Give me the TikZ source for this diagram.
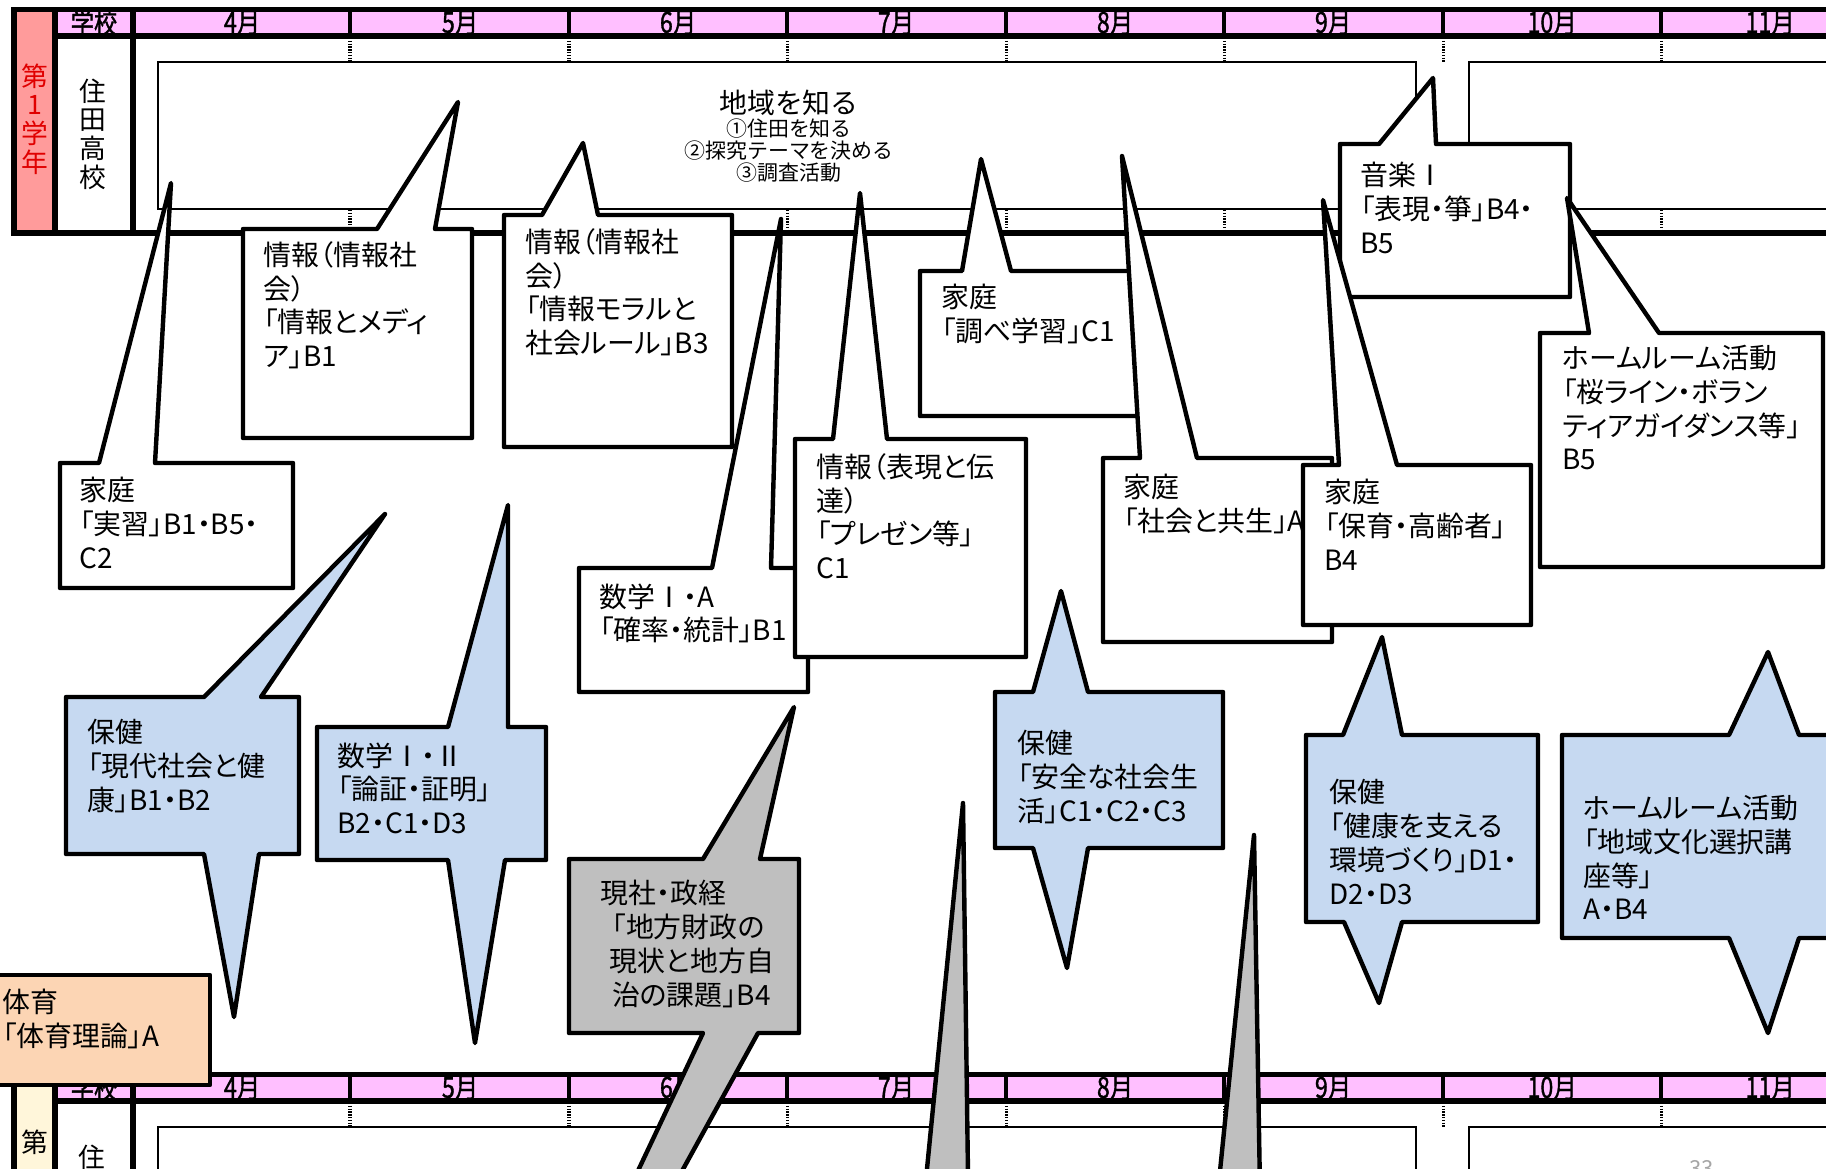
\documentclass[tikz,border=0pt]{standalone}
\usepackage{fontspec}
\setmainfont{Noto Sans CJK JP}[RawFeature={+palt}]
\newfontfamily\plainjp{Noto Sans CJK JP}
\newfontfamily\narrowjp{Noto Sans CJK JP}[FakeStretch=0.8, FakeBold=1.2]
\definecolor{hdrpink}{HTML}{FFBFFF}
\definecolor{colred}{HTML}{FF9B9B}
\definecolor{colcream}{HTML}{FFF6DA}
\definecolor{cblue}{HTML}{C6D9F1}
\definecolor{cgrey}{HTML}{BFBFBF}
\definecolor{cpeach}{HTML}{FCD5B4}
\definecolor{redtxt}{HTML}{E00000}
\tikzset{
  tthick/.style={line width=2.4pt, line cap=rect},
  ttop/.style={line width=1.9pt, line cap=rect},
  msep/.style={line width=1.6pt},
  dotl/.style={line width=1.3pt, dash pattern=on 0.6pt off 0.6pt},
  innerbox/.style={line width=1.2pt},
  cbox/.style={draw=black, line width=1.9pt, line join=round},
  ctext/.style={anchor=north west, inner sep=0pt, align=left, font=\fontsize{12}{14.5}\selectfont},
  htext/.style={inner sep=0pt, font=\narrowjp\fontsize{12.5}{12.5}\selectfont},
  vtext/.style={inner sep=0pt, align=center, font=\plainjp\fontsize{11.5}{12.3}\selectfont},
}
\newcommand\schooltab[3]{%
\begin{scope}[shift={(0,#2)}]
 \fill[#3] (14,9.5) rectangle (55,233);
 \fill[hdrpink] (55,9.5) rectangle (1840,36);
 \foreach \mx in {350,569,787,1006,1224,1443,1661}{
   \draw[msep] (\mx,9.5) -- (\mx,36);
   \draw[dotl] (\mx,38) -- (\mx,62);
   \draw[dotl] (\mx,210) -- (\mx,231);
 }
 \draw[innerbox] (158,62) rectangle (1416,209);
 \draw[innerbox] (1469,62) rectangle (1850,209);
 \draw[ttop] (14,9.5) -- (1840,9.5);
 \draw[tthick] (55,36) -- (1840,36);
 \draw[tthick] (14,233) -- (1840,233);
 \draw[tthick] (14,9.5) -- (14,233);
 \draw[tthick] (55,9.5) -- (55,233);
 \draw[tthick] (133,9.5) -- (133,233);
 \node[htext] (#1school) at (94,22.5) {学校};
 \node[htext] (#1ma) at (242,22.5) {4月};
 \node[htext] (#1mb) at (460,22.5) {5月};
 \node[htext] (#1mc) at (678,22.5) {6月};
 \node[htext] (#1md) at (896,22.5) {7月};
 \node[htext] (#1me) at (1115,22.5) {8月};
 \node[htext] (#1mf) at (1333,22.5) {9月};
 \node[htext] (#1mg) at (1552,22.5) {10月};
 \node[htext] (#1mh) at (1770,22.5) {11月};
\end{scope}}
\begin{document}
\begin{tikzpicture}[x=0.43pt, y=-0.43pt]
\useasboundingbox (0,0) rectangle (1826,1168);
\clip (0,0) rectangle (1826,1168);
\fill[white] (0,0) rectangle (1826,1168);

\schooltab{top}{0}{colred}
\node[vtext, text=redtxt] (topgrade) at (35,119) {第\\1\\学\\年};
\node[vtext] (topname) at (93,134) {住\\田\\高\\校};
\schooltab{bot}{1065}{colcream}
\node[vtext] (botgrade) at (35,1142) {第};
\node[vtext] (botname) at (92,1157) {住};

\node[inner sep=0pt, font=\plainjp\fontsize{12}{13}\selectfont] (theme) at (789,103) {地域を知る};
\node[inner sep=0pt, align=center, anchor=north, font=\plainjp\fontsize{9}{9.5}\selectfont] (themesub) at (789,118) {①住田を知る\\②探究テーマを決める\\③調査活動};

% 1
\draw[cbox, fill=white] (60,463) -- (99,463) -- (171,183) -- (155,463) -- (293,463) -- (293,588) -- (60,588) -- cycle;
\node[ctext] (t1) at (79,477) {家庭\\「実習」B1・B5・\\C2};
% 2
\draw[cbox, fill=white] (243,229) -- (377,229) -- (458,102) -- (435,229) -- (472,229) -- (472,438) -- (243,438) -- cycle;
\node[ctext] (t2) at (263,241) {情報（情報社\\会）\\「情報とメディ\\ア」B1};
% 3
\draw[cbox, fill=white] (504,215) -- (542,215) -- (583,143) -- (598,215) -- (732,215) -- (732,447) -- (504,447) -- cycle;
\node[ctext] (t3) at (525,228) {情報（情報社\\会）\\「情報モラルと\\社会ルール」B3};
% 4
\draw[cbox, fill=white] (579,568) -- (712,568) -- (781,219) -- (771,568) -- (808,568) -- (808,692) -- (579,692) -- cycle;
\node[ctext] (t4) at (599,583) {数学{\plainjp Ⅰ}・A\\「確率・統計」B1};
% 5
\draw[cbox, fill=white] (795,439) -- (833,439) -- (860,193) -- (887,439) -- (1026,439) -- (1026,657) -- (795,657) -- cycle;
\node[ctext] (t5) at (816,453) {情報（表現と伝\\達）\\「プレゼン等」\\C1};
% 6
\draw[cbox, fill=white] (920,271) -- (962,271) -- (981,159) -- (1011,271) -- (1148,271) -- (1148,416) -- (920,416) -- cycle;
\node[ctext] (t6) at (941,284) {家庭\\「調べ学習」C1};
% 7
\draw[cbox, fill=white] (1103,458) -- (1140,458) -- (1122,156) -- (1197,458) -- (1332,458) -- (1332,642) -- (1103,642) -- cycle;
\node[ctext] (t7) at (1123,474) {家庭\\「社会と共生」A};
% 9
\draw[cbox, fill=white] (1340,144) -- (1379,144) -- (1433,78) -- (1436,144) -- (1570,144) -- (1570,297) -- (1340,297) -- cycle;
\node[ctext] (t9) at (1360,162) {音楽{\plainjp Ⅰ}\\「表現・箏」B4・\\B5};
% 8
\draw[cbox, fill=white] (1303,465) -- (1339,465) -- (1323,200) -- (1397,465) -- (1531,465) -- (1531,625) -- (1303,625) -- cycle;
\node[ctext] (t8) at (1324,479) {家庭\\「保育・高齢者」\\B4};
% 10
\draw[cbox, fill=white] (1540,333) -- (1589,333) -- (1567,198) -- (1659,333) -- (1823,333) -- (1823,567) -- (1540,567) -- cycle;
\node[ctext] (t10) at (1562,345) {ホームルーム活動\\「桜ライン・ボラン\\ティアガイダンス等」\\B5};
% 11
\draw[cbox, fill=cblue] (66,697) -- (204,697) -- (385,514) -- (261,697) -- (299,697) -- (299,854) -- (259,854) -- (234,1017) -- (204,854) -- (66,854) -- cycle;
\node[ctext] (t11) at (87,719) {保健\\「現代社会と健\\康」B1・B2};
% 12
\draw[cbox, fill=cblue] (317,727) -- (448,727) -- (508,505) -- (508,727) -- (546,727) -- (546,860) -- (505,860) -- (475,1043) -- (448,860) -- (317,860) -- cycle;
\node[ctext] (t12) at (337,742) {数学{\plainjp Ⅰ}・{\plainjp Ⅱ}\\「論証・証明」\\B2・C1・D3};
% 13
\draw[cbox, fill=cgrey] (569,859) -- (703,859) -- (794,707) -- (760,859) -- (799,859) -- (799,1033) -- (758,1033) -- (611,1300) -- (577,1300) -- (703,1033) -- (569,1033) -- cycle;
\node[ctext] (t13) at (600,880) {現社・政経\\\hspace*{5pt}「地方財政の\\\hspace*{4pt}現状と地方自\\\hspace*{5pt}治の課題」B4};
% 14
\draw[cbox, fill=cblue] (995,692) -- (1033,692) -- (1061,591) -- (1088,692) -- (1223,692) -- (1223,848) -- (1088,848) -- (1067,968) -- (1033,848) -- (995,848) -- cycle;
\node[ctext] (t14) at (1017,730) {保健\\「安全な社会生\\活」C1・C2・C3};
% 15, 16 grey tails
\draw[cbox, fill=cgrey] (963,803) -- (919,1250) -- (969,1250) -- cycle;
\draw[cbox, fill=cgrey] (1254,835) -- (1212,1250) -- (1261,1250) -- cycle;
% 17
\draw[cbox, fill=cblue] (1306,735) -- (1343,735) -- (1382,637) -- (1402,735) -- (1538,735) -- (1538,922) -- (1402,922) -- (1379,1003) -- (1344,922) -- (1306,922) -- cycle;
\node[ctext] (t17) at (1329,779) {保健\\「健康を支える\\環境づくり」D1・\\D2・D3};
% 18
\draw[cbox, fill=cblue] (1562,735) -- (1729,735) -- (1768,652) -- (1799,735) -- (1850,735) -- (1850,938) -- (1799,938) -- (1768,1033) -- (1729,938) -- (1562,938) -- cycle;
\node[ctext] (t18) at (1583,795) {ホームルーム活動\\「地域文化選択講\\座等」\\A・B4};
% 19
\draw[cbox, fill=cpeach] (-20,975) rectangle (210,1085);
\node[ctext] (t19) at (2,989) {体育\\「体育理論」A};

\node[anchor=north west, inner sep=0pt, text=gray!70, font=\plainjp\fontsize{9.5}{10}\selectfont] (pg) at (1689,1160) {33};
\end{tikzpicture}
\end{document}
